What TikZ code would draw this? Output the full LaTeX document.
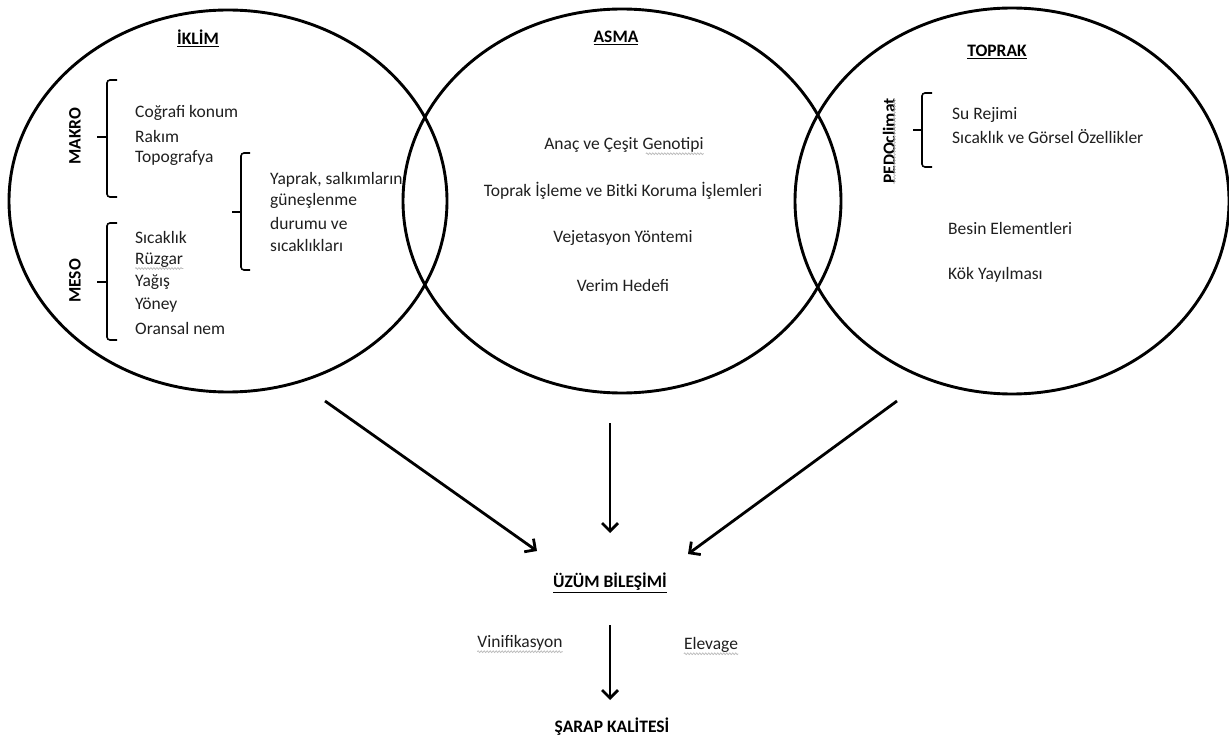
\documentclass[tikz,border=0pt]{standalone}
\usepackage{fontspec}
\setmainfont{Carlito}
\usetikzlibrary{shapes.geometric,arrows.meta,decorations.pathmorphing}
\tikzset{
  circ/.style={draw, ellipse, line width=2.9pt, inner sep=0pt},
  txt/.style={anchor=west, inner sep=0pt, text=black!88},
  ctxt/.style={inner sep=0pt, text=black!88},
  title/.style={inner sep=0pt, font=\fontsize{17.5}{20}\selectfont\bfseries},
  rot/.style={inner sep=0pt, rotate=90, font=\fontsize{17.5}{20}\selectfont\bfseries},
  brk/.style={line width=1.6pt, rounded corners=3pt},
  arr/.style={line width=2.8pt, -{Straight Barb[length=8pt,width=16pt,line width=2.8pt]}},
  spell/.style={draw=gray!55, line width=0.7pt, decorate, decoration={snake, amplitude=0.9pt, segment length=3pt}}
}
\begin{document}
\begin{tikzpicture}[x=1pt,y=-1pt,font=\fontsize{17.5}{20}\selectfont]
\useasboundingbox (0,0) rectangle (1229,738);
% ellipses
\node[circ, minimum width=438pt, minimum height=382pt] (ik) at (228,201) {};
\node[circ, minimum width=438pt, minimum height=384pt] (as) at (622,201) {};
\node[circ, minimum width=434pt, minimum height=386pt] (tp) at (1012,201) {};
% titles
\node[title] (tik) at (198,38) {\underline{İKLİM}};
\node[title] (tas) at (616,38) {\underline{ASMA}};
\node[title] (ttp) at (997,52) {\underline{TOPRAK}};
% IKLIM
\node[rot] (makro) at (75,136) {MAKRO};
\node[rot] (meso) at (75,281) {MESO};
\draw[brk] (117,80) -- (107,80) -- (107,197) -- (117,197);
\draw[brk] (107,137) -- (97,137);
\draw[brk] (117,223) -- (107,223) -- (107,340) -- (117,340);
\draw[brk] (107,282) -- (97,282);
\draw[brk] (250,153) -- (241,153) -- (241,270) -- (250,270);
\draw[brk] (241,212) -- (232,212);
\node[txt] (c1) at (135,113) {Coğrafi konum};
\node[txt] (c2) at (135,136) {Rakım};
\node[txt] (c3) at (135,158) {Topografya};
\node[txt] (m1) at (135,237) {Sıcaklık};
\node[txt] (m2) at (135,260) {Rüzgar};
\node[txt] (m3) at (135,282) {Yağış};
\node[txt] (m4) at (135,305) {Yöney};
\node[txt] (m5) at (135,328) {Oransal nem};
\node[txt] (y1) at (270,180) {Yaprak, salkımların};
\node[txt] (y2) at (270,201) {güneşlenme};
\node[txt] (y3) at (270,223) {durumu ve};
\node[txt] (y4) at (270,245) {sıcaklıkları};
\draw[spell] ([yshift=-1pt]m2.south west) -- ([yshift=-1pt]m2.south east);
% ASMA
\node[ctxt] (a1) at (624,145) {Anaç ve Çeşit Genotipi};
\node[ctxt] (a2) at (623,191) {Toprak İşleme ve Bitki Koruma İşlemleri};
\node[ctxt] (a3) at (623,238) {Vejetasyon Yöntemi};
\node[ctxt] (a4) at (623,285) {Verim Hedefi};
\draw[spell] ([yshift=-1pt,xshift=-58pt]a1.south east) -- ([yshift=-1pt]a1.south east);
% TOPRAK
\node[rot] (pd) at (889,141) {PEDOclimat};
\draw[spell] ([xshift=-1pt]pd.south west) -- ([xshift=-1pt]pd.south east);
\draw[brk] (932,93) -- (922,93) -- (922,167) -- (932,167);
\draw[brk] (922,130) -- (913,130);
\node[txt] (t1) at (952,115) {Su Rejimi};
\node[txt] (t2) at (952,137) {Sıcaklık ve Görsel Özellikler};
\node[txt] (t3) at (948,228) {Besin Elementleri};
\node[txt] (t4) at (948,275) {Kök Yayılması};
% bottom
\node[title] (uz) at (610,583) {\underline{ÜZÜM BİLEŞİMİ}};
\node[ctxt] (vin) at (520,643) {Vinifikasyon};
\node[ctxt] (elv) at (711,645) {Elevage};
\draw[spell] ([yshift=-1pt]vin.south west) -- ([yshift=-1pt]vin.south east);
\draw[spell] ([yshift=-1pt]elv.south west) -- ([yshift=-1pt]elv.south east);
\node[title] (sk) at (612,727) {ŞARAP KALİTESİ};
% arrows
\coordinate (la) at (325,401);
\coordinate (lb) at (537,551);
\coordinate (ma) at (610,423);
\coordinate (mb) at (610,533);
\coordinate (ra) at (897,401);
\coordinate (rb) at (688,554);
\coordinate (ba) at (610,625);
\coordinate (bb) at (610,700);
\draw[arr] (la) -- (lb);
\draw[arr] (ma) -- (mb);
\draw[arr] (ra) -- (rb);
\draw[arr] (ba) -- (bb);
\end{tikzpicture}
\end{document}
